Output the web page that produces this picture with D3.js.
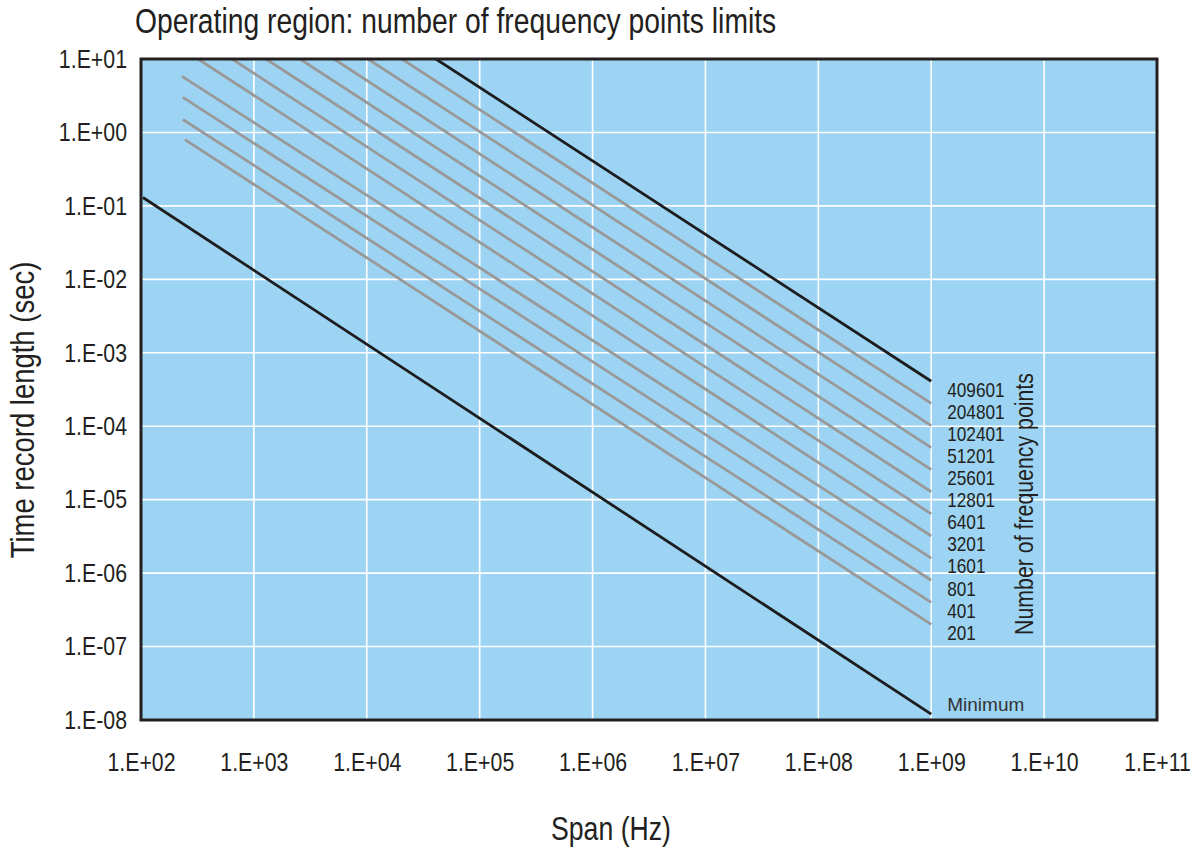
<!DOCTYPE html>
<html>
<head>
<meta charset="utf-8">
<script src="https://cdn.jsdelivr.net/npm/d3@7"></script>
<style>
  html, body { margin: 0; padding: 0; background: #ffffff; }
  svg { display: block; }
  text { fill: #231f20; }
</style>
</head>
<body>
<svg id="chart" width="1194" height="848"></svg>
<script>
// ---------------- data ----------------
const xTicks = [1e2, 1e3, 1e4, 1e5, 1e6, 1e7, 1e8, 1e9, 1e10, 1e11];
const xTickLabels = ["1.E+02", "1.E+03", "1.E+04", "1.E+05", "1.E+06", "1.E+07", "1.E+08", "1.E+09", "1.E+10", "1.E+11"];
const yTicks = [1e1, 1e0, 1e-1, 1e-2, 1e-3, 1e-4, 1e-5, 1e-6, 1e-7, 1e-8];
const yTickLabels = ["1.E+01", "1.E+00", "1.E-01", "1.E-02", "1.E-03", "1.E-04", "1.E-05", "1.E-06", "1.E-07", "1.E-08"];

// frequency-point lines (first one is the black upper limit)
const pointLabels = ["409601", "204801", "102401", "51201", "25601", "12801", "6401", "3201", "1601", "801", "401", "201"];
const lineStartSpan = [40960, 20480, 10240, 5120, 2560, 1280, 640, 320, 231, 235, 235, 245];
const lineStartTime = [10, 10, 10, 10, 10, 10, 10, 10, 5.8, 3.0, 1.5, 0.8];
const lineEndSpan = [1e9, 1e9, 1e9, 1e9, 1e9, 1e9, 1e9, 1e9, 1e9, 1e9, 1e9, 1e9];
const lineEndTime = [4.1e-4, 2.05e-4, 1.02e-4, 5.1e-5, 2.56e-5, 1.28e-5, 6.4e-6, 3.2e-6, 1.6e-6, 8e-7, 4e-7, 2e-7];

// minimum time record line
const minimumSpan = [104, 1e9];
const minimumTime = [0.13, 1.2e-8];

const titleText = "Operating region: number of frequency points limits";
const xAxisTitle = "Span (Hz)";
const yAxisTitle = "Time record length (sec)";
const legendTitle = "Number of frequency points";
const minimumLabel = "Minimum";

// ---------------- layout ----------------
const margin = { left: 141, top: 59, right: 37, bottom: 128 };
const W = 1194, H = 848;
const pw = W - margin.left - margin.right;
const ph = H - margin.top - margin.bottom;
const FONT = "'Liberation Sans', Arial, sans-serif";

// emulate a condensed face: squeeze glyphs horizontally about their anchor x
function condense(sel, f) {
  sel.each(function () {
    const el = d3.select(this);
    const t = el.attr("transform") || "";
    const ax = +(el.attr("x") || 0);
    el.attr("transform", `${t} translate(${ax},0) scale(${f},1) translate(${-ax},0)`);
  });
}
const CF = 0.82;

const svg = d3.select("#chart");
const x = d3.scaleLog().domain([1e2, 1e11]).range([0, pw]);
const y = d3.scaleLog().domain([1e1, 1e-8]).range([0, ph]);

const g = svg.append("g").attr("transform", `translate(${margin.left},${margin.top})`);

svg.append("defs").append("clipPath").attr("id", "plotclip")
  .append("rect").attr("x", 0).attr("y", 0).attr("width", pw).attr("height", ph);

// background
g.append("rect").attr("x", 0).attr("y", 0).attr("width", pw).attr("height", ph)
  .attr("fill", "#9dd4f3");

// grid
g.append("g").selectAll("line").data(xTicks.slice(1, -1)).join("line")
  .attr("x1", d => x(d)).attr("x2", d => x(d)).attr("y1", 0).attr("y2", ph)
  .attr("stroke", "#ffffff").attr("stroke-width", 1.6);
g.append("g").selectAll("line").data(yTicks.slice(1, -1)).join("line")
  .attr("y1", d => y(d)).attr("y2", d => y(d)).attr("x1", 0).attr("x2", pw)
  .attr("stroke", "#ffffff").attr("stroke-width", 1.6);

// lines
const lines = pointLabels.map((lab, i) => ({
  label: lab,
  pts: [[lineStartSpan[i], lineStartTime[i]], [lineEndSpan[i], lineEndTime[i]]],
  black: i === 0
}));
const lineGen = d3.line().x(d => x(d[0])).y(d => y(d[1]));
const lg = g.append("g").attr("clip-path", "url(#plotclip)");
lg.selectAll("path.gray").data(lines.filter(d => !d.black)).join("path")
  .attr("class", "gray")
  .attr("d", d => lineGen(d.pts)).attr("fill", "none")
  .attr("stroke", "#999999").attr("stroke-width", 2.8);
lg.selectAll("path.black").data(lines.filter(d => d.black)).join("path")
  .attr("class", "black")
  .attr("d", d => lineGen(d.pts)).attr("fill", "none")
  .attr("stroke", "#1d1d1f").attr("stroke-width", 2.8);
lg.append("path")
  .attr("d", lineGen(minimumSpan.map((s, i) => [s, minimumTime[i]])))
  .attr("fill", "none").attr("stroke", "#1d1d1f").attr("stroke-width", 2.8);

// labels for lines
g.append("g").selectAll("text").data(lines).join("text")
  .attr("x", x(1e9) + 16)
  .attr("y", d => y(d.pts[1][1]) + 8)
  .attr("dy", "0.35em")
  .attr("font-family", FONT).attr("font-size", 21)
  .text(d => d.label)
  .call(condense, CF);

g.append("text")
  .attr("transform", `translate(${x(1e9) + 102},${504 - margin.top}) rotate(-90)`)
  .attr("text-anchor", "middle")
  .attr("font-family", FONT).attr("font-size", 26)
  .text(legendTitle)
  .call(condense, CF);

g.append("text")
  .attr("x", x(1e9) + 16).attr("y", y(minimumTime[1]) - 10)
  .attr("dy", "0.35em")
  .attr("font-family", FONT).attr("font-size", 19)
  .style("fill", "#333333")
  .text(minimumLabel);

// border
g.append("rect").attr("x", 0).attr("y", 0).attr("width", pw).attr("height", ph)
  .attr("fill", "none").attr("stroke", "#231f20").attr("stroke-width", 3);

// axes
const xTickFmt = d => xTickLabels[xTicks.indexOf(d)];
const yTickFmt = d => yTickLabels[yTicks.indexOf(d)];
const xAxis = g.append("g").attr("transform", `translate(0,${ph})`)
  .call(d3.axisBottom(x).tickValues(xTicks).tickFormat(xTickFmt).tickSize(0).tickPadding(33));
const yAxis = g.append("g")
  .call(d3.axisLeft(y).tickValues(yTicks).tickFormat(yTickFmt).tickSize(0).tickPadding(14));
[xAxis, yAxis].forEach(a => {
  a.select(".domain").remove();
  a.selectAll("text").attr("font-family", FONT).attr("font-size", 26).style("fill", "#231f20")
    .call(condense, CF);
});

// titles
svg.append("text").attr("x", 135).attr("y", 33)
  .attr("font-family", FONT).attr("font-size", 34.5)
  .text(titleText)
  .call(condense, CF);
svg.append("text").attr("x", 611).attr("y", 840)
  .attr("text-anchor", "middle")
  .attr("font-family", FONT).attr("font-size", 32.5)
  .text(xAxisTitle)
  .call(condense, CF);
svg.append("text")
  .attr("transform", `translate(34,${410}) rotate(-90)`)
  .attr("text-anchor", "middle")
  .attr("font-family", FONT).attr("font-size", 33.5)
  .text(yAxisTitle)
  .call(condense, CF);
</script>
</body>
</html>
